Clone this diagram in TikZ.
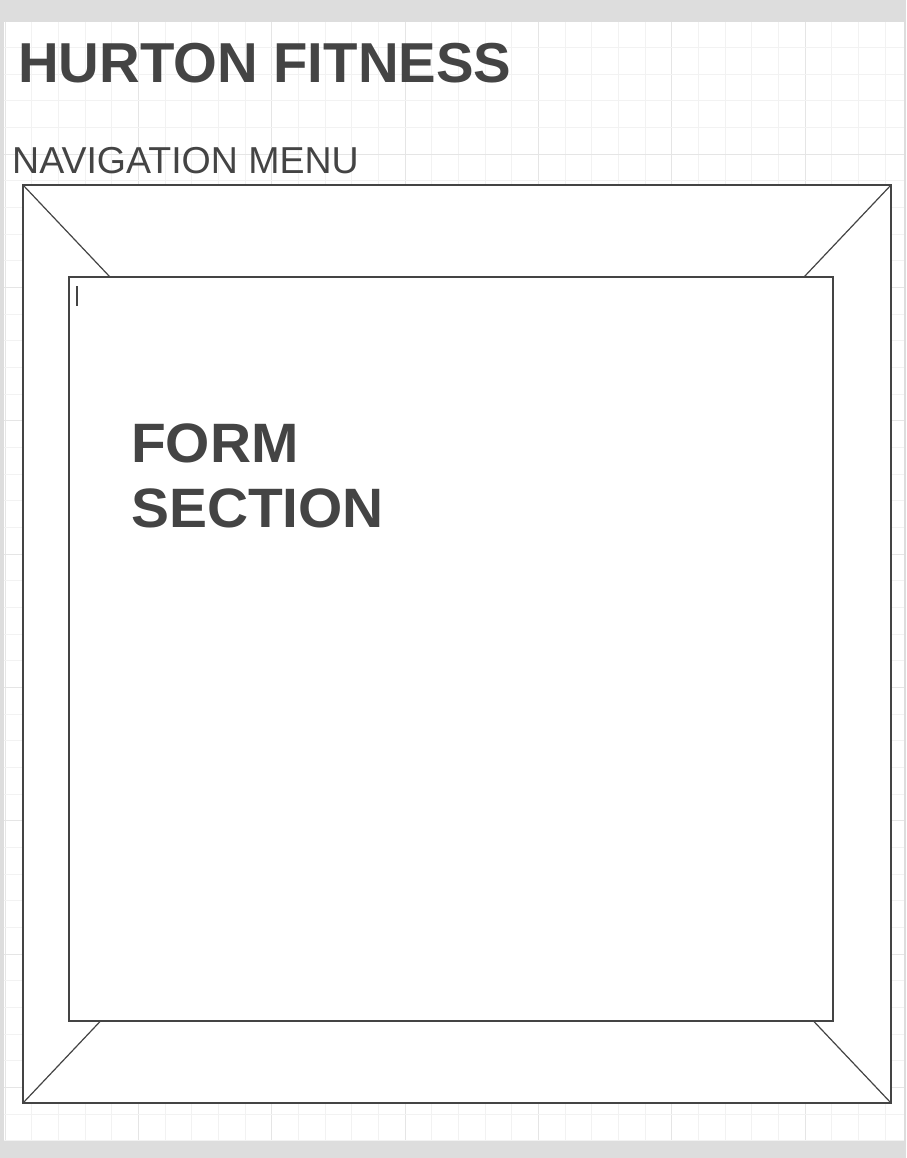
\documentclass[tikz,border=0pt]{standalone}
\usepackage{fontspec}
\setmainfont{Liberation Sans}
\newfontfamily\formfont[FakeStretch=1.025]{Liberation Sans}
\definecolor{bgray}{HTML}{DDDDDD}
\definecolor{gminor}{HTML}{F2F2F2}
\definecolor{gmajor}{HTML}{E5E5E5}
\definecolor{ink}{HTML}{444444}
\tikzset{
  frame/.style={draw=ink, line width=2pt},
  diag/.style={draw=ink, line width=1.2pt},
  txt/.style={inner sep=0pt, anchor=base west, text=ink},
}
\begin{document}
\begin{tikzpicture}[x=1pt,y=-1pt]
\fill[bgray] (0,0) rectangle (906,1158);
\useasboundingbox (0,0) rectangle (906,1158);
\fill[white] (4,22) rectangle (904,1141);
\begin{scope}
\clip (4,22) rectangle (904,1141);
\foreach \i in {0,...,34} {
  \pgfmathsetmacro{\xx}{5+26.6667*\i}
  \pgfmathtruncatemacro{\m}{mod(\i,5)}
  \ifnum\m=0
    \draw[gmajor, line width=1pt] (\xx,22) -- (\xx,1141);
  \else
    \draw[gminor, line width=1pt] (\xx,22) -- (\xx,1141);
  \fi
}
\foreach \i in {0,...,42} {
  \pgfmathsetmacro{\yy}{20.7+26.6667*\i}
  \pgfmathtruncatemacro{\m}{mod(\i,5)}
  \ifnum\m=0
    \draw[gmajor, line width=1pt] (4,\yy) -- (904,\yy);
  \else
    \draw[gminor, line width=1pt] (4,\yy) -- (904,\yy);
  \fi
}
\end{scope}
% outer frame with diagonals
\coordinate (otl) at (23,185);
\coordinate (otr) at (891,185);
\coordinate (obl) at (23,1103);
\coordinate (obr) at (891,1103);
\fill[white] (otl) rectangle (obr);
\draw[diag] (otl) -- (obr);
\draw[diag] (otr) -- (obl);
\draw[frame] (otl) rectangle (obr);
% inner form box
\coordinate (itl) at (69,277);
\coordinate (ibr) at (833,1021);
\filldraw[frame, fill=white] (itl) rectangle (ibr);
% cursor
\coordinate (c1) at (77,286);
\coordinate (c2) at (77,306);
\draw[ink, line width=1.3pt] (c1) -- (c2);
% texts
\node[txt, font=\fontsize{56.3}{67}\selectfont\bfseries] (title) at (18,82.7) {HURTON FITNESS};
\node[txt, font=\fontsize{37.5}{45}\selectfont] (nav) at (12,174) {NAVIGATION MENU};
\node[txt, font=\formfont\fontsize{55.5}{65}\selectfont\bfseries] (form) at (131,462.7) {FORM};
\node[txt, font=\formfont\fontsize{55.5}{65}\selectfont\bfseries] (section) at (131,527.7) {SECTION};
\end{tikzpicture}
\end{document}
